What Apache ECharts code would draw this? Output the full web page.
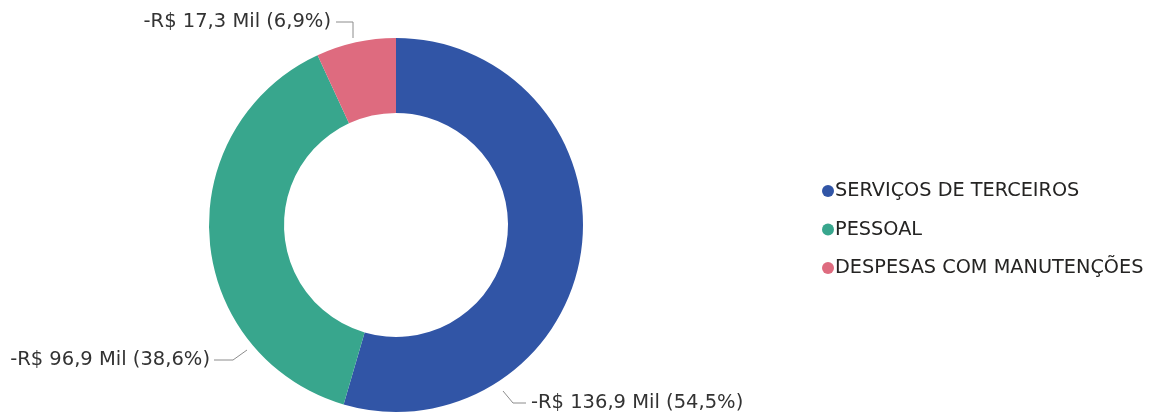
<!DOCTYPE html>
<html>
<head>
<meta charset="utf-8">
<script src="https://cdn.jsdelivr.net/npm/echarts@6/dist/echarts.min.js"></script>
<style>
html,body{margin:0;padding:0;background:#fff;}
#chart{width:1153px;height:419px;}
</style>
</head>
<body>
<div id="chart"></div>
<script>
// Data
var categories = ['SERVIÇOS DE TERCEIROS', 'PESSOAL', 'DESPESAS COM MANUTENÇÕES'];
var values = [-136.9, -96.9, -17.3]; // R$ mil
var colors = ['#3155a6', '#38a68d', '#de6b7f'];

var total = values.reduce(function (a, b) { return a + Math.abs(b); }, 0);
function fmt(v, d) { return v.toFixed(d).replace('.', ','); }

var chart = echarts.init(document.getElementById('chart'), null, {renderer: 'canvas'});

// label placement (label box anchor + label line elbow), per slice
var labelPlace = [
  {x: 531, y: 403, align: 'left', line: [[503, 391], [513, 403], [526, 403]]},
  {x: 210, y: 360, align: 'right', line: [[247, 350], [233, 360], [214, 360]]},
  {x: 331, y: 22, align: 'right', line: [[353, 38], [353, 22], [336, 22]]}
];

var option = {
  animation: false,
  color: colors,
  legend: {
    orient: 'vertical',
    left: 817,
    top: 176,
    icon: 'circle',
    itemWidth: 12,
    itemHeight: 12,
    itemGap: 18.5,
    textStyle: {
      fontFamily: 'DejaVu Sans',
      fontSize: 19.3,
      lineHeight: 20,
      color: '#252423',
      padding: [0, 0, 0, -4]
    },
    data: categories
  },
  series: [{
    type: 'pie',
    center: [396, 225],
    radius: [112, 187],
    startAngle: 90,
    clockwise: true,
    avoidLabelOverlap: false,
    label: {
      show: true,
      fontFamily: 'DejaVu Sans',
      fontSize: 19.5,
      color: '#333333',
      formatter: function (p) {
        var v = values[p.dataIndex];
        return '-R$ ' + fmt(Math.abs(v), 1) + ' Mil (' + fmt(Math.abs(v) / total * 100, 1) + '%)';
      }
    },
    labelLine: {
      show: true,
      length: 10,
      length2: 15,
      lineStyle: {color: '#8c8c8c', width: 1}
    },
    labelLayout: function (params) {
      var lp = labelPlace[params.dataIndex];
      return {
        x: lp.x,
        y: lp.y,
        align: lp.align,
        verticalAlign: 'middle',
        labelLinePoints: lp.line
      };
    },
    emphasis: {disabled: true},
    data: categories.map(function (c, i) {
      return {name: c, value: Math.abs(values[i])};
    })
  }]
};
chart.setOption(option);
</script>
</body>
</html>
